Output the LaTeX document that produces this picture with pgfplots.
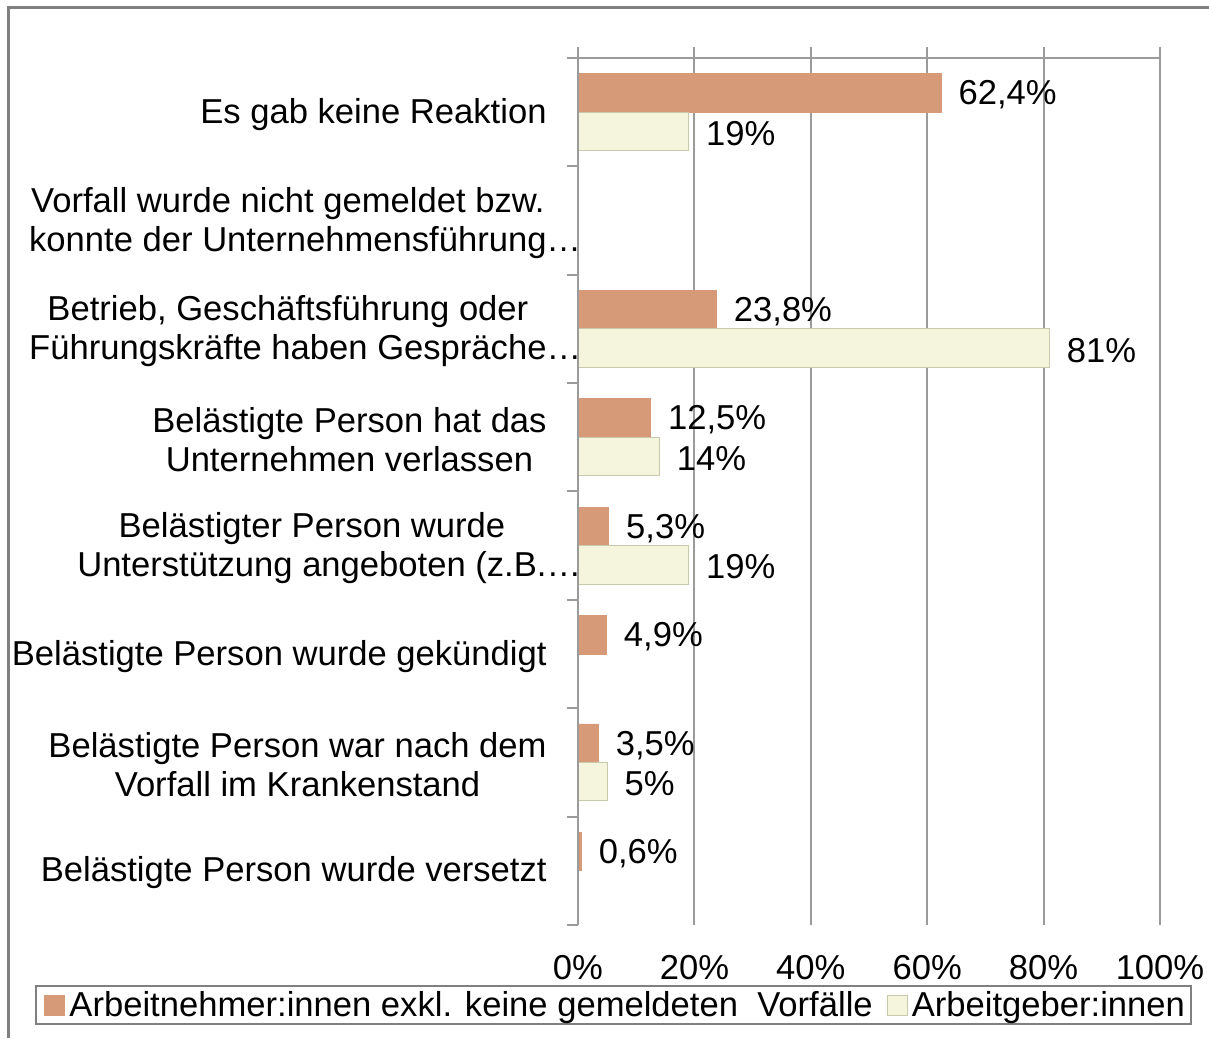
\documentclass[border=0pt]{standalone}
\usepackage{pgfplots}
\usepackage{pgfplotstable}
\pgfplotsset{compat=1.18}
\usepackage{fontspec}
\setmainfont{Liberation Sans}
\definecolor{barA}{RGB}{214,154,120}
\definecolor{barB}{RGB}{245,244,220}
\definecolor{barBline}{RGB}{200,200,170}
\definecolor{gridc}{RGB}{155,155,155}
\definecolor{framec}{RGB}{128,128,128}
\newcommand{\F}{\fontsize{17.3}{19.5}\selectfont}

\pgfplotstableread{
y x lab
7 62.4 {62,4\%}
5 23.8 {23,8\%}
4 12.5 {12,5\%}
3 5.3 {5,3\%}
2 4.9 {4,9\%}
1 3.5 {3,5\%}
0 0.6 {0,6\%}
}\tabA

\pgfplotstableread{
y x lab
7 19 {19\%}
5 81 {81\%}
4 14 {14\%}
3 19 {19\%}
1 5 {5\%}
}\tabB

\begin{document}
\begin{tikzpicture}
\useasboundingbox (0,0) rectangle (604.5pt,519pt);
\draw[framec, line width=1.5pt] (4pt,0) -- (4pt,515pt) -- (604.5pt,515pt);
\begin{axis}[
  at={(289pt,56.5pt)}, anchor=south west,
  scale only axis, width=291pt, height=433.5pt,
  xbar, bar width=19.25pt,
  xmin=0, xmax=100, ymin=-0.5, ymax=7.5,
  axis line style={draw=none},
  xtick={0,20,...,100},
  xticklabels={0\%,20\%,40\%,60\%,80\%,100\%},
  xtick pos=right, xticklabel pos=left,
  xmajorgrids, major grid style={gridc, line width=1pt},
  tick align=outside, major tick length=5.5pt,
  tick style={gridc, line width=1pt},
  ytick={-0.5,0.5,...,7.5}, yticklabels={}, ytick pos=left,
  extra y ticks={0,...,7},
  extra y tick labels={
    {Belästigte Person wurde versetzt},
    {Belästigte Person war nach dem\\Vorfall im Krankenstand},
    {Belästigte Person wurde gekündigt},
    {Belästigter Person wurde\\Unterstützung angeboten (z.B.\rlap{…}},
    {Belästigte Person hat das\\Unternehmen verlassen},
    {Betrieb, Geschäftsführung oder\\Führungskräfte haben Gespräche\rlap{…}},
    {Vorfall wurde nicht gemeldet bzw.\\konnte der Unternehmensführung\rlap{…}},
    {Es gab keine Reaktion}},
  extra y tick style={major tick length=0pt, tick style={draw=none},
    yticklabel style={align=center, anchor=east, inner sep=0pt, xshift=-15.5pt, yshift=-1pt, font=\F}},
  xticklabel style={font=\F, anchor=base, inner sep=0pt, yshift=-21.5pt},
  nodes near coords,
  nodes near coords style={font=\F, anchor=west, inner sep=0pt, xshift=8.5pt, yshift=-1pt},
  legend style={at={(-0.933,-0.0692)}, anchor=north west, draw=framec, line width=1pt,
    font=\F, legend columns=2, inner xsep=1pt, inner ysep=0.5pt,
    /tikz/every even column/.append style={column sep=2pt}},
  legend image code/.code={\path (-3pt,0pt); \draw[#1, line width=0.5pt] (0pt,-5pt) rectangle (10pt,5pt);},
]
\addplot[fill=barA, draw=barA, bar shift=9.625pt, point meta=explicit symbolic]
  table[x=x, y=y, meta=lab] {\tabA};
\addlegendentry{Arbeitnehmer:innen exkl. keine gemeldeten\ \ Vorfälle}
\addplot[fill=barB, draw=barBline, line width=0.5pt, bar shift=-9.625pt, point meta=explicit symbolic]
  table[x=x, y=y, meta=lab] {\tabB};
\addlegendentry{Arbeitgeber:innen}
\draw[gridc, line width=1pt] (rel axis cs:0,0) -- (rel axis cs:0,1) -- (rel axis cs:1,1);
\end{axis}
\end{tikzpicture}
\end{document}
